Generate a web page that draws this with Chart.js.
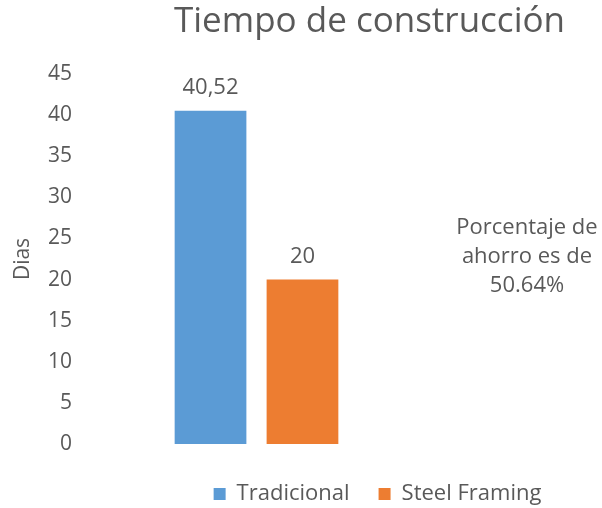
<!DOCTYPE html>
<html>
<head>
<meta charset="utf-8">
<script src="https://cdn.jsdelivr.net/npm/chart.js@4.4.0/dist/chart.umd.min.js"></script>
<style>
  html, body { margin: 0; padding: 0; background: #fff; }
  #wrap { width: 602px; height: 508px; }
</style>
</head>
<body>
<div id="wrap"><canvas id="chart" width="602" height="508"></canvas></div>
<script>
// data
const categories = ['Tiempo de construcción'];
const seriesNames = ['Tradicional', 'Steel Framing'];
const tradicional = [40.52];
const steelFraming = [20];
const valueLabels = [['40,52'], ['20']];
const noteLines = ['Porcentaje de', 'ahorro es de', '50.64%'];

const grey = '#595959';
const FONT = "'Open Sans', sans-serif";

// labels above the bars
const barLabels = {
    id: 'barLabels',
    afterDatasetsDraw(chart) {
        const ctx = chart.ctx;
        ctx.save();
        ctx.fillStyle = grey;
        ctx.font = '22px ' + FONT;
        ctx.textAlign = 'center';
        ctx.textBaseline = 'alphabetic';
        chart.data.datasets.forEach((ds, i) => {
            chart.getDatasetMeta(i).data.forEach((bar, j) => {
                ctx.fillText(valueLabels[i][j], bar.x, bar.y - 17);
            });
        });
        ctx.restore();
    }
};

// text box on the right
const note = {
    id: 'note',
    afterDraw(chart) {
        const ctx = chart.ctx;
        ctx.save();
        ctx.fillStyle = grey;
        ctx.font = '22px ' + FONT;
        ctx.textAlign = 'center';
        ctx.textBaseline = 'alphabetic';
        noteLines.forEach((line, i) => {
            ctx.fillText(line, 527, 234 + i * 29);
        });
        ctx.restore();
    }
};

// title and legend sit to the right of the plot, like the original
const shiftBoxes = {
    id: 'shiftBoxes',
    afterLayout(chart) {
        const t = chart.titleBlock;
        t.left += 153; t.right += 153;
        const l = chart.legend;
        l.left += 161; l.right += 161;
        l.top += 10; l.bottom += 10;
    }
};

new Chart(document.getElementById('chart'), {
    type: 'bar',
    data: {
        labels: categories,
        datasets: [{
            label: seriesNames[0],
            data: tradicional,
            backgroundColor: '#5B9BD5'
        }, {
            label: seriesNames[1],
            data: steelFraming,
            backgroundColor: '#ED7D31'
        }]
    },
    options: {
        responsive: false,
        animation: false,
        categoryPercentage: 0.521,
        barPercentage: 0.78,
        layout: {
            padding: { left: 0, right: 169, top: 0, bottom: 3 }
        },
        scales: {
            x: {
                display: false
            },
            y: {
                min: 0,
                max: 45,
                ticks: {
                    stepSize: 5,
                    color: grey,
                    font: { family: FONT, size: 21 },
                    padding: 8
                },
                grid: { display: false, drawTicks: false },
                border: { display: false },
                title: {
                    display: true,
                    text: 'Dias',
                    color: grey,
                    font: { family: FONT, size: 21 },
                    padding: { top: 10, bottom: 4 }
                },
                afterFit(scale) { scale.width = 80; }
            }
        },
        plugins: {
            title: {
                display: true,
                text: 'Tiempo de construcción',
                color: grey,
                font: { family: FONT, size: 35, weight: 'normal' },
                padding: { top: 1, bottom: 31 }
            },
            legend: {
                position: 'bottom',
                labels: {
                    color: grey,
                    font: { family: FONT, size: 22 },
                    boxWidth: 12,
                    boxHeight: 12,
                    padding: 29
                }
            },
            tooltip: { enabled: false }
        }
    },
    plugins: [barLabels, note, shiftBoxes]
});
</script>
</body>
</html>
